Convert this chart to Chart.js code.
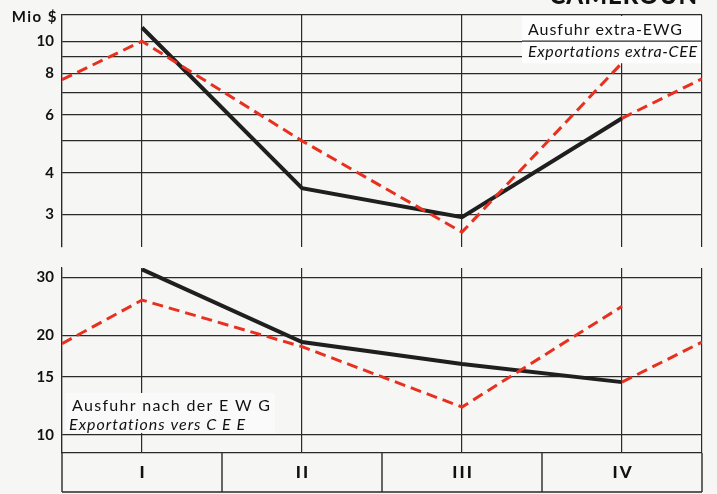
<!DOCTYPE html>
<html lang="de">
<head>
<meta charset="UTF-8">
<title>Cameroun – Ausfuhr</title>
<script src="https://cdn.jsdelivr.net/npm/chart.js@4"></script>
<style>
    html, body { margin: 0; padding: 0; background: #f6f6f5; }
    .wrap { position: relative; width: 717px; height: 494px; overflow: hidden; }
    .wrap canvas { position: absolute; left: 0; }
    #topChart { top: 0; }
    #bottomChart { top: 250px; }
</style>
</head>
<body>
<div class="wrap">
    <canvas id="topChart" width="717" height="250"></canvas>
    <canvas id="bottomChart" width="717" height="244"></canvas>
</div>
<script>
// quarters on the x axis
const quarters = ['I', 'II', 'III', 'IV'];

// top panel: Ausfuhr extra-EWG (Mio $)
const extraCurrent = [11.0, 3.6, 2.94, 5.85];
const extraPrevious = [10.0, 5.0, 2.65, 8.6];
const extraPrevLead = 7.65;   // previous Q IV, at left edge
const extraNextTail = 7.7;    // continuation at right edge
const extraGrid = [3, 4, 5, 6, 7, 8, 9, 10, 12];
const extraLabels = [3, 4, 6, 8, 10];

// bottom panel: Ausfuhr nach der EWG (Mio $)
const ewgCurrent = [31.7, 19.1, 16.4, 14.45];
const ewgPrevious = [25.6, 18.5, 12.15, 24.5];
const ewgPrevLead = 18.9;
const ewgNextTail = 19.1;
const ewgGrid = [10, 15, 20, 30];
const ewgLabels = [10, 15, 20, 30];

const xGrid = [-0.5, 0, 1, 2, 3, 3.5];
const boxEdges = [-0.5, 0.5, 1.5, 2.5, 3.5];

const gridColor = '#2a2a2a';
const black = '#1f1f1f';
const red = '#e8301f';
const tickFont = { family: 'Lato', size: 15, weight: 'bold' };

function lineSets(current, previous, lead, tail) {
    return [
        {
            data: current.map((v, i) => ({ x: i, y: v })),
            borderColor: black, borderWidth: 4, order: 1
        },
        {
            data: [{ x: -0.5, y: lead }].concat(previous.map((v, i) => ({ x: i, y: v }))),
            borderColor: red, borderWidth: 3, borderDash: [11, 6], order: 0
        },
        {
            data: [{ x: 3, y: current[3] }, { x: 3.5, y: tail }],
            borderColor: red, borderWidth: 3, borderDash: [11, 6], order: 0
        }
    ];
}

function xScale(showLabels) {
    return {
        type: 'linear', min: -0.5, max: 3.5,
        afterBuildTicks: s => { s.ticks = xGrid.map(v => ({ value: v })); },
        afterFit: s => {
            s.height = showLabels ? 41 : 3;
            s.paddingLeft = 0; s.paddingRight = 0;
        },
        grid: { color: gridColor, lineWidth: 1.2, drawTicks: false },
        border: { display: showLabels, color: gridColor, width: 1.2 },
        ticks: {
            display: showLabels, padding: 9, autoSkip: false, maxRotation: 0,
            color: '#111', font: { family: 'Lato', size: 17, weight: '900' },
            callback: v => Number.isInteger(v) ? quarters[v].split('').join('\u2009') : ''
        }
    };
}

function yScale(min, max, gridVals, labelVals) {
    return {
        type: 'logarithmic', min: min, max: max,
        afterBuildTicks: s => { s.ticks = gridVals.map(v => ({ value: v })); },
        afterFit: s => {
            s.width = 62;
            s.paddingTop = 0; s.paddingBottom = 0;
        },
        grid: { color: gridColor, lineWidth: 1.2, drawTicks: false },
        border: { color: gridColor, width: 1.2 },
        ticks: {
            padding: 8, color: '#111', font: tickFont, autoSkip: false,
            callback: v => labelVals.includes(v) ? String(v) : ''
        }
    };
}

// draw text stretched to a given width
function fitText(ctx, text, x, y, width) {
    ctx.letterSpacing = '0px';
    const w = ctx.measureText(text).width;
    const sp = (width - w) / (text.length - 1);
    ctx.letterSpacing = sp.toFixed(2) + 'px';
    ctx.fillText(text, x, y);
    ctx.letterSpacing = '0px';
}

const topNotes = {
    id: 'topNotes',
    beforeDatasetsDraw(chart) {
        const { ctx, chartArea, scales } = chart;
        const y10 = scales.y.getPixelForValue(10);
        const left = chartArea.right - 180, right = chartArea.right - 1;
        ctx.save();
        ctx.fillStyle = '#fdfdfd';
        ctx.fillRect(left, chartArea.top + 1, right - left, y10 + 22 - chartArea.top - 1);
        ctx.strokeStyle = gridColor;
        ctx.lineWidth = 1.2;
        ctx.beginPath();
        ctx.moveTo(left, y10);
        ctx.lineTo(right, y10);
        ctx.stroke();
        ctx.fillStyle = '#111';
        ctx.textBaseline = 'middle';
        ctx.font = '16px Lato';
        fitText(ctx, 'Ausfuhr extra-EWG', left + 6, chartArea.top + 15, 154);
        ctx.font = 'italic 16px Lato';
        fitText(ctx, 'Exportations extra-CEE', left + 6, y10 + 11, 169);
        ctx.restore();
    },
    afterDraw(chart) {
        const { ctx, chartArea } = chart;
        ctx.save();
        ctx.fillStyle = '#111';
        ctx.font = 'bold 15px Lato';
        ctx.textAlign = 'right';
        ctx.textBaseline = 'middle';
        ctx.letterSpacing = '1.5px';
        ctx.fillText('Mio $', chartArea.left - 4, chartArea.top + 2);
        ctx.font = '900 24px Lato';
        ctx.textBaseline = 'alphabetic';
        ctx.letterSpacing = '1px';
        ctx.fillText('CAMEROUN', chartArea.right - 4, 4);
        ctx.restore();
    }
};

const bottomNotes = {
    id: 'bottomNotes',
    beforeDatasetsDraw(chart) {
        const { ctx, chartArea, scales } = chart;
        const y10 = scales.y.getPixelForValue(10);
        const left = chartArea.left + 4;
        ctx.save();
        ctx.fillStyle = '#fafafa';
        ctx.fillRect(left, y10 - 42, 209, 40);
        ctx.fillStyle = '#111';
        ctx.textBaseline = 'middle';
        ctx.font = '16px Lato';
        fitText(ctx, 'Ausfuhr nach der E W G', left + 6, y10 - 29, 198);
        ctx.font = 'italic 16px Lato';
        fitText(ctx, 'Exportations vers C E E', left + 3, y10 - 10, 176);
        ctx.restore();
    },
    afterDraw(chart) {
        // boxes round the quarter labels
        const { ctx, chartArea, scales } = chart;
        const bottom = chartArea.bottom + 39;
        ctx.save();
        ctx.strokeStyle = gridColor;
        ctx.lineWidth = 1.4;
        ctx.beginPath();
        boxEdges.forEach(v => {
            const x = scales.x.getPixelForValue(v);
            ctx.moveTo(x, chartArea.bottom);
            ctx.lineTo(x, bottom);
        });
        ctx.moveTo(chartArea.left, bottom);
        ctx.lineTo(chartArea.right, bottom);
        ctx.stroke();
        ctx.restore();
    }
};

function makeChart(id, sets, y, showX, padTop, plugin) {
    return new Chart(document.getElementById(id), {
        type: 'line',
        data: { datasets: sets },
        options: {
            responsive: false,
            animation: false,
            devicePixelRatio: 1,
            layout: { padding: { left: 0, right: 15, top: padTop, bottom: 0 } },
            elements: { point: { radius: 0 }, line: { tension: 0, borderCapStyle: 'butt' } },
            plugins: { legend: { display: false }, tooltip: { enabled: false } },
            scales: { x: xScale(showX), y: y }
        },
        plugins: [plugin]
    });
}

makeChart('topChart', lineSets(extraCurrent, extraPrevious, extraPrevLead, extraNextTail),
    yScale(2.39, 12, extraGrid, extraLabels), false, 15, topNotes);
makeChart('bottomChart', lineSets(ewgCurrent, ewgPrevious, ewgPrevLead, ewgNextTail),
    yScale(8.82, 32, ewgGrid, ewgLabels), true, 18, bottomNotes);
</script>
</body>
</html>
